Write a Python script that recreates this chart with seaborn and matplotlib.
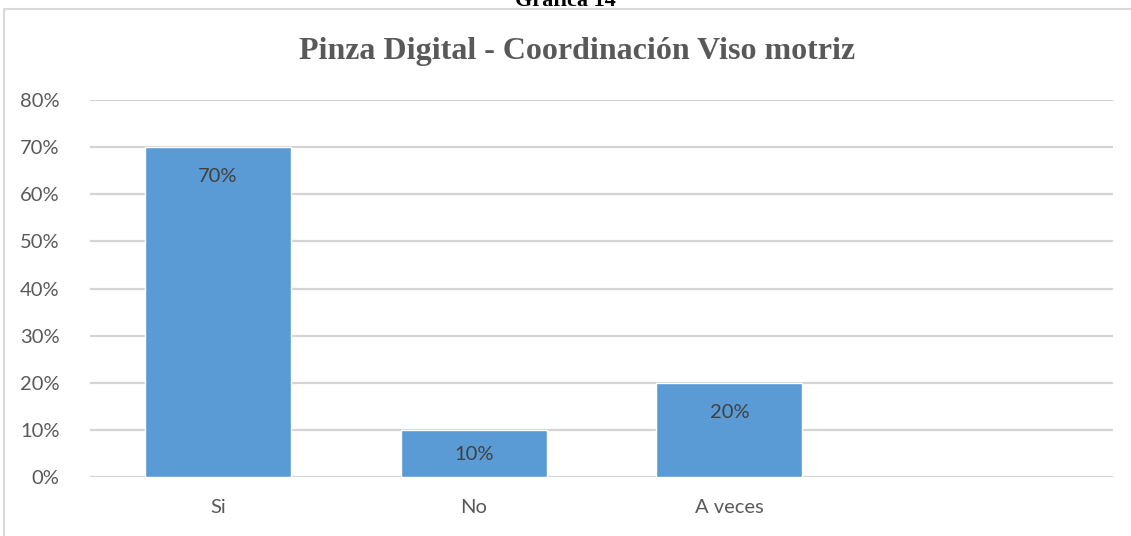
import matplotlib
matplotlib.use("Agg")
import matplotlib.pyplot as plt
import seaborn as sns
import pandas as pd
from matplotlib.patches import Rectangle
from matplotlib.ticker import PercentFormatter, MultipleLocator

categories = ["Si", "No", "A veces"]
values = [0.70, 0.10, 0.20]
title = "Pinza Digital - Coordinación Viso motriz"
outer_title = "Gráfica 14"

sns.set_theme(style="white")
plt.rcParams['font.family'] = ['Lato', 'DejaVu Sans']

W, H = 1131, 536
fig = plt.figure(figsize=(W / 100, H / 100), dpi=100)
ax = fig.add_axes([90 / W, 59 / H, (1113 - 90) / W, (477 - 100) / H])

df = pd.DataFrame({"cat": categories, "val": values})
sns.barplot(data=df, x="cat", y="val", ax=ax, color="#5b9bd5", saturation=1,
            width=0.57, order=categories)

ax.set_xlim(-0.5, 3.5)
ax.set_ylim(0, 0.8)
ax.yaxis.set_major_locator(MultipleLocator(0.1))
ax.yaxis.set_major_formatter(PercentFormatter(1.0, decimals=0))
ax.grid(axis="y", color="#d4d4d4", linewidth=1.6)
ax.set_axisbelow(True)
for s in ax.spines.values():
    s.set_visible(False)
ax.set_xlabel("")
ax.set_ylabel("")
ax.tick_params(axis="y", length=0, pad=22, labelsize=14.5, labelcolor="#595959")
ax.tick_params(axis="x", length=0, pad=16, labelsize=14.5, labelcolor="#595959")

# data labels inside end
px_per_unit = (477 - 100) / 0.8
for i, v in enumerate(values):
    hpx = v * px_per_unit
    off = min(28, hpx / 2)
    ax.annotate(f"{v:.0%}", xy=(i, v), xytext=(0, -off * 0.72 - 1),
                textcoords="offset points", ha="center", va="center",
                fontsize=14.5, color="#404040")

fig.suptitle(title, x=(577) / W, y=1 - 51 / H, va="center",
             fontsize=23, fontweight="bold", color="#595959",
             family="Liberation Serif")

fig.text(565 / W, 1 - 6 / H, outer_title, ha="center", va="baseline",
         fontsize=16, fontweight="bold", color="#000000",
         family="Liberation Serif")

# chart frame
fig.patches.append(Rectangle((4 / W, -0.1), 1.2, 1 - 9 / H + 0.1,
                             transform=fig.transFigure, fill=False,
                             edgecolor="#d9d9d9", linewidth=1.5, zorder=-1))

fig.savefig("out.png", dpi=100)
